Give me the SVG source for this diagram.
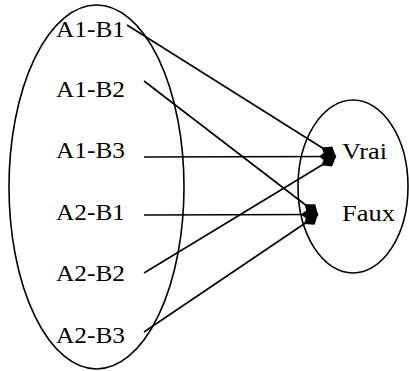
<svg xmlns="http://www.w3.org/2000/svg" width="409" height="371" viewBox="0 0 409 371">
<style>
.sh{fill:none;stroke:#000;stroke-width:1.6}
.t{font-family:"Liberation Serif",serif;font-size:23.5px;fill:#000}
.c{fill:none;stroke:#000;stroke-width:1.6;marker-end:url(#dia)}
</style>
<defs>
<marker id="dia" markerUnits="userSpaceOnUse" viewBox="0 -7 18 14" refX="17" refY="0" markerWidth="18" markerHeight="14" orient="auto">
<path d="M0,0 L8.5,-6.5 L17,0 L8.5,6.5 Z" fill="#000"/>
</marker>
</defs>
<rect width="409" height="371" fill="#fff"/>
<g id="setA">
<ellipse class="sh" cx="96.5" cy="187" rx="87.5" ry="182"/>
</g>
<g id="setB">
<ellipse class="sh" cx="353" cy="186.5" rx="55" ry="86.5"/>
</g>
<g id="a1b1"><text class="t" x="56" y="37" textLength="69" lengthAdjust="spacingAndGlyphs">A1-B1</text></g>
<g id="a1b2"><text class="t" x="56" y="97" textLength="69" lengthAdjust="spacingAndGlyphs">A1-B2</text></g>
<g id="a1b3"><text class="t" x="56" y="158" textLength="69" lengthAdjust="spacingAndGlyphs">A1-B3</text></g>
<g id="a2b1"><text class="t" x="56" y="220" textLength="69" lengthAdjust="spacingAndGlyphs">A2-B1</text></g>
<g id="a2b2"><text class="t" x="56" y="281" textLength="69" lengthAdjust="spacingAndGlyphs">A2-B2</text></g>
<g id="a2b3"><text class="t" x="56" y="343" textLength="69" lengthAdjust="spacingAndGlyphs">A2-B3</text></g>
<g id="vrai"><text class="t" x="342" y="159" textLength="45" lengthAdjust="spacingAndGlyphs">Vrai</text></g>
<g id="faux"><text class="t" x="342" y="221" textLength="53" lengthAdjust="spacingAndGlyphs">Faux</text></g>
<g id="connectors">
<line class="c" x1="127" y1="25" x2="336" y2="156.5"/>
<line class="c" x1="144" y1="81" x2="318" y2="214.5"/>
<line class="c" x1="144" y1="157" x2="336" y2="156.5"/>
<line class="c" x1="144" y1="215" x2="318" y2="214.5"/>
<line class="c" x1="144" y1="273" x2="336" y2="156.5"/>
<line class="c" x1="144" y1="332" x2="318" y2="214.5"/>
</g>
</svg>
